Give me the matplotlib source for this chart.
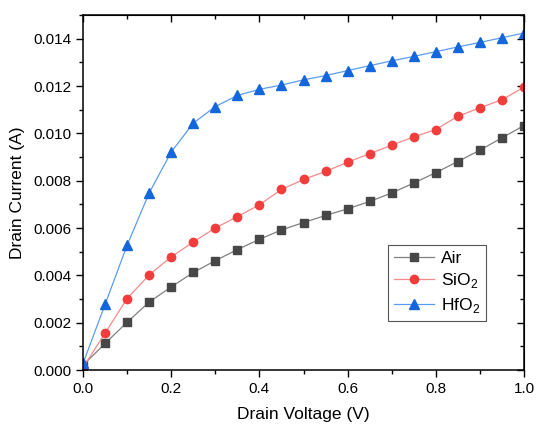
import matplotlib
matplotlib.use("Agg")
import matplotlib.pyplot as plt
from matplotlib.ticker import MultipleLocator

plt.rcParams['font.family'] = ['Liberation Sans', 'DejaVu Sans']
plt.rcParams['mathtext.fontset'] = 'custom'
plt.rcParams['mathtext.rm'] = 'Liberation Sans'

voltage = [0.0, 0.05, 0.1, 0.15, 0.2, 0.25, 0.3, 0.35, 0.4, 0.45, 0.5,
           0.55, 0.6, 0.65, 0.7, 0.75, 0.8, 0.85, 0.9, 0.95, 1.0]
air = [0.0002, 0.00112, 0.00202, 0.00287, 0.00351, 0.00412, 0.00462, 0.00509,
       0.00552, 0.00592, 0.00623, 0.00653, 0.00681, 0.00712, 0.00748, 0.0079,
       0.00834, 0.00881, 0.00929, 0.00981, 0.01033]
sio2 = [0.0001, 0.00156, 0.00302, 0.00402, 0.00478, 0.00541, 0.006, 0.00648,
        0.00698, 0.00763, 0.00805, 0.00839, 0.00878, 0.00914, 0.0095, 0.00985,
        0.01016, 0.01072, 0.01108, 0.01142, 0.01195]
hfo2 = [0.00028, 0.00277, 0.00527, 0.00748, 0.00921, 0.01043, 0.01113, 0.0116,
        0.01186, 0.01204, 0.01226, 0.01244, 0.01265, 0.01286, 0.01306, 0.01325,
        0.01345, 0.01365, 0.01384, 0.01404, 0.01424]
labels = ['Air', 'SiO$_2$', 'HfO$_2$']

fig = plt.figure(figsize=(5.37, 4.25), dpi=100)
ax = fig.add_axes([0.1546, 0.1294, 0.8212, 0.8353])

ax.plot(voltage, air, color='#808080', lw=0.9, marker='s', ms=5.2,
        mfc='#474747', mec='#474747', label=labels[0])
ax.plot(voltage, sio2, color='#f58a8a', lw=0.9, marker='o', ms=6,
        mfc='#f23d3d', mec='#f23d3d', label=labels[1])
ax.plot(voltage, hfo2, color='#5c9cf0', lw=0.9, marker='^', ms=6.5,
        mfc='#1466dc', mec='#1466dc', label=labels[2])

ax.set_xlim(0, 1.0)
ax.set_ylim(0, 0.015)
ax.xaxis.set_major_locator(MultipleLocator(0.2))
ax.xaxis.set_minor_locator(MultipleLocator(0.1))
ax.yaxis.set_major_locator(MultipleLocator(0.002))
ax.yaxis.set_minor_locator(MultipleLocator(0.001))
ax.xaxis.set_major_formatter(plt.FuncFormatter(lambda v, p: f"{v:.1f}"))
ax.yaxis.set_major_formatter(plt.FuncFormatter(lambda v, p: f"{v:.3f}"))

ax.tick_params(which='both', direction='out', labelsize=11, width=1, top=False, right=False)
ax.tick_params(which='major', length=5)
ax.tick_params(which='minor', length=3)
for s in ax.spines.values():
    s.set_linewidth(1.1)

axt = ax.secondary_xaxis('top')
axt.xaxis.set_major_locator(MultipleLocator(0.2))
axt.xaxis.set_minor_locator(MultipleLocator(0.1))
axt.tick_params(which='both', direction='in', labeltop=False, width=1)
axt.tick_params(which='major', length=5)
axt.tick_params(which='minor', length=3)
axr = ax.secondary_yaxis('right')
axr.yaxis.set_major_locator(MultipleLocator(0.002))
axr.yaxis.set_minor_locator(MultipleLocator(0.001))
axr.tick_params(which='both', direction='in', labelright=False, width=1)
axr.tick_params(which='major', length=5)
axr.tick_params(which='minor', length=3)

ax.set_xlabel('Drain Voltage (V)', fontsize=12.5, labelpad=8)
ax.set_ylabel('Drain Current (A)', fontsize=12.5, labelpad=6)

leg = ax.legend(loc='upper left', bbox_to_anchor=(0.692, 0.352), borderaxespad=0,
                fontsize=12.5, fancybox=False, edgecolor='#555555', framealpha=1,
                handlelength=2.3, handletextpad=0.4, labelspacing=0.3,
                borderpad=0.35)
leg.get_frame().set_linewidth(0.8)

fig.savefig('out.png', dpi=100)
